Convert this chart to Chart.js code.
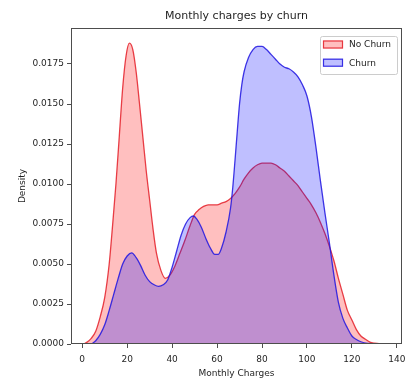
<!DOCTYPE html>
<html>
<head>
<meta charset="utf-8">
<script src="https://cdn.jsdelivr.net/npm/chart.js@4.4.1/dist/chart.umd.min.js"></script>
<style>
  html, body { margin: 0; padding: 0; background: #fff; }
  canvas { display: block; }
</style>
</head>
<body>
<canvas id="c" width="406" height="383"></canvas>
<script>
// Kernel density of monthly charges, customers who stayed
const noChurnCharges = [0.6, 2, 4, 6, 8, 10, 12, 13.5, 15, 16.5, 18, 19.5, 21, 22.5, 24, 25.5, 27, 28.5, 30, 31.5, 33, 35, 37, 39, 41, 43, 45.5, 48, 50, 52, 54, 56, 58, 60, 62, 64, 66, 68, 70, 72, 74, 76, 78, 80, 82, 84, 86, 88, 90, 92, 94, 96, 98, 100, 102, 104, 106, 108, 110, 112, 114, 116, 118, 120, 122, 124, 126, 128, 130, 133, 136.4];
const noChurnDensity = [0, 0.0001, 0.00035, 0.0008, 0.0017, 0.0029, 0.0050, 0.0074, 0.0100, 0.0130, 0.0160, 0.0180, 0.0188, 0.0184, 0.0170, 0.0150, 0.0129, 0.0108, 0.0090, 0.0072, 0.0057, 0.0046, 0.0041, 0.0043, 0.0048, 0.0055, 0.0064, 0.0074, 0.0081, 0.0084, 0.0086, 0.0087, 0.0087, 0.0087, 0.0088, 0.0089, 0.0091, 0.0094, 0.0098, 0.0103, 0.0107, 0.0110, 0.0112, 0.0113, 0.0113, 0.0113, 0.0112, 0.0110, 0.0108, 0.0105, 0.0102, 0.0099, 0.0095, 0.0091, 0.0087, 0.0082, 0.0076, 0.0069, 0.0061, 0.0052, 0.0041, 0.0031, 0.0021, 0.0015, 0.0009, 0.0005, 0.0003, 0.00012, 0.00005, 0.00001, 0];

// Kernel density of monthly charges, customers who left
const churnCharges = [4.2, 6, 8, 10, 12, 14, 16, 18, 20, 22, 24, 26, 28, 30, 32, 34, 36, 38, 40, 42, 44, 46, 48, 49.5, 51, 53, 55, 57, 59, 60.5, 62, 64, 66, 67, 68, 69, 70, 71, 72, 74, 76, 78, 80, 82, 84, 86, 88, 90, 92, 94, 96, 98, 100, 102, 104, 106, 108, 110, 112, 114, 116, 118, 120, 122, 124, 127, 133];
const churnDensity = [0, 0.0002, 0.0006, 0.0012, 0.0021, 0.0031, 0.0041, 0.0050, 0.0055, 0.0057, 0.0054, 0.0049, 0.0043, 0.0039, 0.0037, 0.0036, 0.0037, 0.0040, 0.0048, 0.0058, 0.0068, 0.0075, 0.0079, 0.0080, 0.0078, 0.0073, 0.0066, 0.0060, 0.0056, 0.0056, 0.0060, 0.0070, 0.0085, 0.0098, 0.0115, 0.0133, 0.0150, 0.0162, 0.0170, 0.0179, 0.0184, 0.0186, 0.0186, 0.0184, 0.0181, 0.0178, 0.0175, 0.0173, 0.0172, 0.0170, 0.0167, 0.0162, 0.0155, 0.0142, 0.0123, 0.0102, 0.0082, 0.0063, 0.0043, 0.0026, 0.0016, 0.0010, 0.0005, 0.00028, 0.00014, 0.00004, 0];

const seriesNames = ['No Churn', 'Churn'];
const xTicks = [0, 20, 40, 60, 80, 100, 120, 140];
const yTicks = [0, 0.0025, 0.005, 0.0075, 0.01, 0.0125, 0.015, 0.0175];

const FONT = 'DejaVu Sans';
const TEXT = '#1f1f1f';
const SPINE = '#4d4d4d';

const toPoints = (xs, ys) => xs.map((x, i) => ({ x: x, y: ys[i] }));

// Axes frame on all four sides plus the boxed legend in the upper right
const frameAndLegend = {
  id: 'frameAndLegend',
  afterDraw(chart) {
    const { ctx, chartArea: a } = chart;
    ctx.save();
    ctx.strokeStyle = SPINE;
    ctx.lineWidth = 1;
    ctx.strokeRect(Math.round(a.left) + 0.5, Math.round(a.top) + 0.5,
                   Math.round(a.right - a.left) - 1, Math.round(a.bottom - a.top) - 1);

    const bx = 320, by = 36, bw = 77, bh = 38;
    ctx.fillStyle = 'rgba(255,255,255,0.8)';
    ctx.strokeStyle = '#cccccc';
    ctx.beginPath();
    ctx.roundRect(bx + 0.5, by + 0.5, bw, bh, 2);
    ctx.fill();
    ctx.stroke();

    const rows = [44.5, 62.7];
    ctx.font = '9px "' + FONT + '"';
    ctx.textBaseline = 'middle';
    ctx.textAlign = 'left';
    const legendOrder = [0, 1];
    legendOrder.forEach((di, k) => {
      const ds = chart.data.datasets[di];
      const cy = rows[k];
      ctx.fillStyle = '#ffffff';
      ctx.fillRect(323, cy - 4, 20, 8);
      ctx.fillStyle = ds.backgroundColor;
      ctx.fillRect(323, cy - 4, 20, 8);
      ctx.strokeStyle = ds.borderColor;
      ctx.lineWidth = 1.2;
      ctx.strokeRect(323.5, cy - 3.5, 19, 7);
      ctx.fillStyle = TEXT;
      ctx.fillText(seriesNames[di], 349, cy + 0.5);
    });
    ctx.restore();
  }
};

new Chart(document.getElementById('c'), {
  type: 'line',
  data: {
    datasets: [
      {
        label: seriesNames[0],
        data: toPoints(noChurnCharges, noChurnDensity),
        borderColor: 'rgba(228,30,40,0.85)',
        backgroundColor: 'rgba(255,0,0,0.25)',
        fill: 'origin',
        borderWidth: 1.3,
        pointRadius: 0,
        cubicInterpolationMode: 'monotone',
        order: 1
      },
      {
        label: seriesNames[1],
        data: toPoints(churnCharges, churnDensity),
        borderColor: 'rgba(30,20,225,0.85)',
        backgroundColor: 'rgba(0,0,255,0.25)',
        fill: 'origin',
        borderWidth: 1.3,
        pointRadius: 0,
        cubicInterpolationMode: 'monotone',
        order: 0
      }
    ]
  },
  options: {
    responsive: false,
    animation: false,
    devicePixelRatio: 1,
    layout: { padding: { left: 0, right: 4, top: 0, bottom: 0 } },
    plugins: {
      legend: { display: false },
      tooltip: { enabled: false },
      title: {
        display: true,
        text: 'Monthly charges by churn',
        color: TEXT,
        font: { family: FONT, size: 11, weight: 'normal' },
        padding: { top: 9.4, bottom: 5.4 },
        fullSize: false
      }
    },
    scales: {
      x: {
        type: 'linear',
        min: -5.0,
        max: 142.3,
        afterBuildTicks(s) { s.ticks = xTicks.map(v => ({ value: v })); },
        afterFit(s) { s.height = 39; s.paddingLeft = 0; s.paddingRight = 0; },
        ticks: {
          color: TEXT,
          font: { family: FONT, size: 9 },
          padding: 6,
          maxRotation: 0,
          callback: v => String(v)
        },
        grid: { display: true, drawOnChartArea: false, drawTicks: true, tickLength: 4, color: SPINE },
        border: { display: false },
        title: {
          display: true,
          text: 'Monthly Charges',
          color: TEXT,
          font: { family: FONT, size: 9 },
          padding: { top: 0, bottom: 4 }
        }
      },
      y: {
        type: 'linear',
        min: 0,
        max: 0.01975,
        afterBuildTicks(s) { s.ticks = yTicks.map(v => ({ value: v })); },
        afterFit(s) { s.width = 71; s.paddingTop = 0; s.paddingBottom = 0; },
        ticks: {
          color: TEXT,
          font: { family: FONT, size: 9 },
          padding: 3,
          callback: v => Number(v).toFixed(4)
        },
        grid: { display: true, drawOnChartArea: false, drawTicks: true, tickLength: 4, color: SPINE },
        border: { display: false },
        title: {
          display: true,
          text: 'Density',
          color: TEXT,
          font: { family: FONT, size: 9 },
          padding: { top: 17.3, bottom: 0 }
        }
      }
    }
  },
  plugins: [frameAndLegend]
});
</script>
</body>
</html>
